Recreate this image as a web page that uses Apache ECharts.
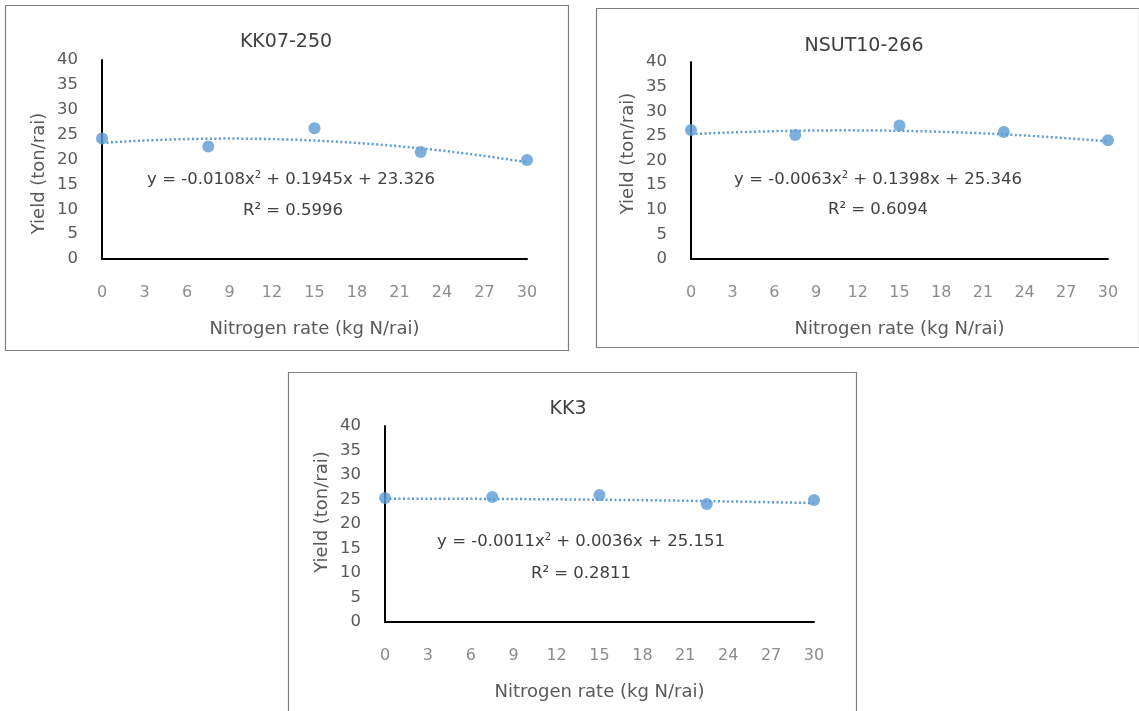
<!DOCTYPE html>
<html><head><meta charset="utf-8">
<script src="https://cdn.jsdelivr.net/npm/echarts@6/dist/echarts.min.js"></script>
<style>html,body{margin:0;padding:0;background:#fff}#c{width:1139px;height:711px}</style>
</head><body><div id="c"></div>
<script>
// ---- data ----
const nitrogen = [0, 7.5, 15, 22.5, 30];
const titles = ['KK07-250', 'NSUT10-266', 'KK3'];
const yieldKK07 = [24.2, 22.6, 26.3, 21.5, 19.9];
const yieldNSUT = [26.2, 25.2, 27.1, 25.8, 24.1];
const yieldKK3  = [25.3, 25.5, 25.9, 24.1, 24.9];
// trendline coefficients shown on the chart: [a, b, c] for y = a x^2 + b x + c
const coefKK07 = [-0.0108, 0.1945, 23.326];
const coefNSUT = [-0.0063, 0.1398, 25.346];
const coefKK3  = [-0.0011, 0.0036, 25.151];
const eqTexts = ['y = -0.0108x{s|2} + 0.1945x + 23.326', 'y = -0.0063x{s|2} + 0.1398x + 25.346', 'y = -0.0011x{s|2} + 0.0036x + 25.151'];
const r2Texts = ['R² = 0.5996', 'R² = 0.6094', 'R² = 0.2811'];
const xTicks = [0, 3, 6, 9, 12, 15, 18, 21, 24, 27, 30];
const yTicks = [0, 5, 10, 15, 20, 25, 30, 35, 40];

const yields = [yieldKK07, yieldNSUT, yieldKK3];
const coefs = [coefKK07, coefNSUT, coefKK3];

// ---- layout ----
const FONT = '"DejaVu Sans", Verdana, sans-serif';
const panels = [
  {box:[5,5,563,345], grid:{left:102, right:1139-527, top:60, bottom:711-259}, tx:286, titleY:42, eqX:291, eqY:180, r2X:293, r2Y:211, yShift:14},
  {box:[596,8,543,339], grid:{left:691, right:1139-1108, top:62, bottom:711-259}, tx:864, titleY:46, eqX:878, eqY:180, r2X:878, r2Y:210, yShift:-7},
  {box:[288,372,568,360], grid:{left:385, right:1139-814, top:426, bottom:711-622}, tx:568, titleY:409, eqX:581, eqY:542, r2X:581, r2Y:574, yShift:-12}
];

const grid=[], xAxis=[], yAxis=[], series=[], graphic=[];
panels.forEach((p,i)=>{
  grid.push(Object.assign({containLabel:false}, p.grid));
  xAxis.push({type:'value', gridIndex:i, min:0, max:30, interval:3,
    axisLine:{show:true, onZero:false, lineStyle:{color:'#000', width:2}},
    axisTick:{show:false}, splitLine:{show:false},
    axisLabel:{color:'#8c8c8c', fontSize:16, fontFamily:FONT, margin:26,
      formatter:v=> xTicks.includes(v) ? String(v) : ''},
    name:'Nitrogen rate (kg N/rai)', nameLocation:'middle', nameGap:61,
    nameTextStyle:{color:'#595959', fontSize:18, fontFamily:FONT}
  });
  const sh = p.yShift;
  yAxis.push({type:'value', gridIndex:i, min:0, max:40, interval:5,
    axisLine:{show:true, onZero:false, lineStyle:{color:'#000', width:2}},
    axisTick:{show:false}, splitLine:{show:false},
    axisLabel:{color:'#595959', fontSize:16.5, fontFamily:FONT, margin:24,
      formatter:v=> yTicks.includes(v) ? String(v) : ''},
    name:'Yield (ton/rai)', nameLocation:'middle', nameGap:54, nameRotate:90,
    nameTextStyle:{color:'#595959', fontSize:18, fontFamily:FONT,
      padding: sh>0 ? [0, 2*sh, 0, 0] : [0, 0, 0, -2*sh]}
  });
  const c = coefs[i];
  const trend = [];
  for (let k=0;k<=60;k++){ const x=k*0.5; trend.push([x, c[0]*x*x + c[1]*x + c[2]]); }
  series.push({type:'line', xAxisIndex:i, yAxisIndex:i, data:trend, showSymbol:false, symbol:'none',
    lineStyle:{color:'#5b9bd5', width:2.5, type:[2,2.5]}, silent:true, z:2});
  series.push({type:'scatter', xAxisIndex:i, yAxisIndex:i, data:nitrogen.map((x,j)=>[x, yields[i][j]]),
    symbol:'circle', symbolSize:12, itemStyle:{color:'#5b9bd5'}, z:3});
  const b=p.box;
  graphic.push({type:'rect', shape:{x:b[0]+0.5, y:b[1]+0.5, width:b[2], height:b[3]}, style:{fill:'none', stroke:'#808080', lineWidth:1.2}, z:-1});
  graphic.push({type:'text', x:p.tx, y:p.titleY, style:{text:titles[i], fill:'#404040', font:'19px '+FONT, align:'center', verticalAlign:'middle'}});
  graphic.push({type:'text', x:p.eqX, y:p.eqY, style:{text:eqTexts[i], fill:'#404040', font:'16.5px '+FONT, align:'center', verticalAlign:'middle',
    rich:{s:{fontSize:10, fontFamily:FONT, fill:'#404040', verticalAlign:'top', padding:[0,0,9,0]}}}});
  graphic.push({type:'text', x:p.r2X, y:p.r2Y, style:{text:r2Texts[i], fill:'#404040', font:'16.5px '+FONT, align:'center', verticalAlign:'middle'}});
});

const chart = echarts.init(document.getElementById('c'), null, {renderer:'canvas'});
chart.setOption({backgroundColor:'#fff', animation:false, grid, xAxis, yAxis, series, graphic});
</script></body></html>
